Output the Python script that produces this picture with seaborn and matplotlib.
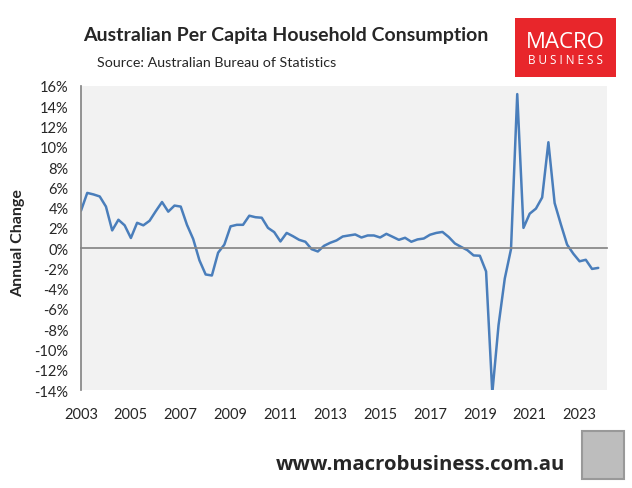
import matplotlib
matplotlib.use("Agg")
import matplotlib.pyplot as plt
from matplotlib.patches import Rectangle
import numpy as np
import pandas as pd
import seaborn as sns

# Annual change in per capita household consumption (%), quarterly from Dec-2003
values = [3.7, 5.45, 5.3, 5.1, 4.1, 1.75, 2.8, 2.25, 1.0, 2.5,
          2.25, 2.7, 3.65, 4.55, 3.6, 4.2, 4.1, 2.3, 0.9, -1.2,
          -2.6, -2.7, -0.45, 0.35, 2.15, 2.3, 2.3, 3.2, 3.05, 3.0,
          2.0, 1.58, 0.66, 1.5, 1.18, 0.82, 0.63, -0.1, -0.33, 0.23,
          0.53, 0.76, 1.15, 1.25, 1.35, 1.05, 1.25, 1.25, 1.05, 1.41,
          1.12, 0.82, 1.02, 0.63, 0.86, 0.95, 1.32, 1.5, 1.6, 1.1,
          0.46, 0.12, -0.2, -0.72, -0.75, -2.3, -14.3, -7.6, -3.0, -0.1,
          15.2, 2.0, 3.4, 3.9, 5.0, 10.45, 4.45, 2.35, 0.35, -0.55,
          -1.3, -1.15, -2.05, -1.95]
quarters = pd.period_range("2003Q4", periods=len(values), freq="Q")
year_labels = ["2003", "2005", "2007", "2009", "2011", "2013",
               "2015", "2017", "2019", "2021", "2023"]
y_ticks = list(range(-14, 17, 2))

df = pd.DataFrame({"pos": np.arange(len(values)), "change": values})
label_pos = [i for i, q in enumerate(quarters) if str(q.year) in year_labels and q.quarter == 4]

sns.set_theme(style="white")
plt.rcParams["font.family"] = ["Lato", "DejaVu Sans"]

fig = plt.figure(figsize=(6.32, 4.89), dpi=100)
ax = fig.add_axes([0.1282, 0.2004, 0.8322, 0.6217])
ax.set_facecolor("#F2F2F2")

sns.lineplot(data=df, x="pos", y="change", ax=ax, color="#4A7EBB", linewidth=1.8)

ax.set_xlim(0, 84.4)
ax.set_ylim(-14, 16)
ax.set_yticks(y_ticks)
ax.set_yticklabels([f"{t}%" for t in y_ticks], fontsize=10.5)
ax.set_xlabel("")
ax.set_ylabel("")

grey = "#868686"
for s in ["top", "right"]:
    ax.spines[s].set_visible(False)
ax.spines["left"].set_color(grey)
ax.spines["bottom"].set_color(grey)
ax.spines["bottom"].set_position(("data", 0))
ax.set_xticks(label_pos)
ax.tick_params(axis="x", direction="out", length=4, color=grey, labelbottom=False)
ax.tick_params(axis="y", direction="out", length=5, color=grey, pad=4)

sec = ax.secondary_xaxis("bottom")
sec.set_xticks(label_pos)
sec.set_xticklabels(year_labels, fontsize=10.5)
sec.tick_params(length=0, pad=12)
sec.spines["bottom"].set_visible(False)

fig.text(0.0285, 0.503, "Annual Change", rotation=90, ha="center", va="center",
         fontsize=11.5, fontweight="bold")
fig.text(0.4525, 0.928, "Australian Per Capita Household Consumption",
         ha="center", va="center", fontsize=14, fontweight="bold")
fig.text(0.1535, 0.871, "Source: Australian Bureau of Statistics",
         ha="left", va="center", fontsize=10.3)

# MacroBusiness logo
fig.patches.append(Rectangle((0.815, 0.8405), 0.16, 0.1207, transform=fig.transFigure,
                             facecolor="#E8262B", edgecolor="none"))
fig.text(0.895, 0.914, "MACRO", color="white", ha="center", va="center",
         fontsize=16, family=["Open Sans", "DejaVu Sans"])
fig.text(0.895, 0.877, "B U S I N E S S", color="white", ha="center", va="center",
         fontsize=8.5, family=["Open Sans", "DejaVu Sans"])

fig.text(0.666, 0.049, "www.macrobusiness.com.au", ha="center", va="center",
         fontsize=14.7, fontweight="bold", family=["Open Sans", "DejaVu Sans"])
fig.patches.append(Rectangle((0.921, 0.018), 0.066, 0.098, transform=fig.transFigure,
                             facecolor="#BDBDBD", edgecolor="#999999", linewidth=1.5))

fig.savefig("out.png", dpi=100)
